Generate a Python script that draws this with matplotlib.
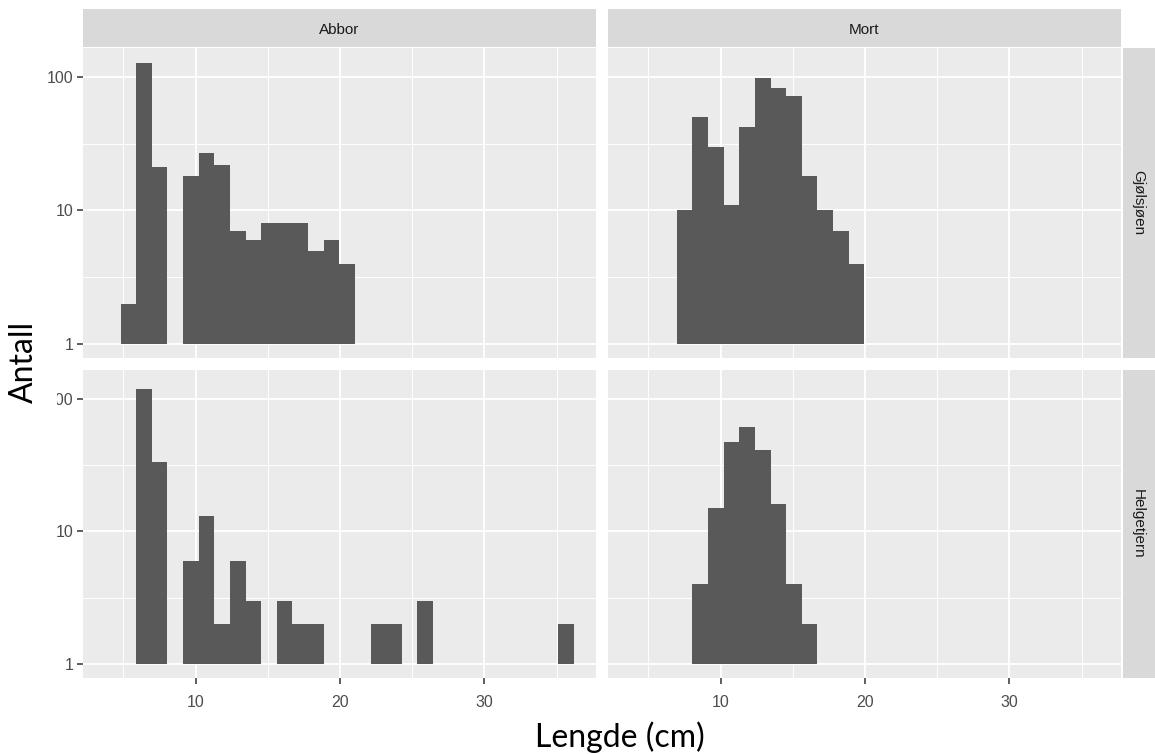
import numpy as np
import matplotlib
matplotlib.use("Agg")
import matplotlib.pyplot as plt
from matplotlib.patches import Rectangle

# shared histogram bins (ggplot default: 30 bins over the full length range)
first_edge = 3.72
bin_width = 1.082
n_bins = 30

species = ["Abbor", "Mort"]
lakes = ["Gjølsjøen", "Helgetjern"]

# counts per bin
abbor_gjolsjoen = [0, 2, 126, 21, 0, 18, 27, 22, 7, 6, 8, 8, 8, 5, 6, 4,
                   0, 0, 0, 0, 0, 0, 0, 0, 0, 0, 0, 0, 0, 0]
abbor_helgetjern = [0, 0, 118, 33, 0, 6, 13, 2, 6, 3, 0, 3, 2, 2, 0, 0,
                    0, 2, 2, 0, 3, 0, 0, 0, 0, 0, 0, 0, 0, 2]
mort_gjolsjoen = [0, 0, 0, 10, 50, 30, 11, 42, 97, 83, 72, 18, 10, 7, 4, 0,
                  0, 0, 0, 0, 0, 0, 0, 0, 0, 0, 0, 0, 0, 0]
mort_helgetjern = [0, 0, 0, 0, 4, 15, 47, 61, 41, 16, 4, 2, 0, 0, 0, 0,
                   0, 0, 0, 0, 0, 0, 0, 0, 0, 0, 0, 0, 0, 0]

counts = {
    ("Abbor", "Gjølsjøen"): abbor_gjolsjoen,
    ("Abbor", "Helgetjern"): abbor_helgetjern,
    ("Mort", "Gjølsjøen"): mort_gjolsjoen,
    ("Mort", "Helgetjern"): mort_helgetjern,
}

x_major = [10, 20, 30]
x_minor = [5, 15, 25, 35]
y_major = [1, 10, 100]
y_minor = [10 ** 0.5, 10 ** 1.5]

W, H = 1155, 754
fig = plt.figure(figsize=(W / 100, H / 100), dpi=100)
fig.patch.set_facecolor("white")

def px_axes(x0, y0, x1, y1):
    return fig.add_axes([x0 / W, 1 - y1 / H, (x1 - x0) / W, (y1 - y0) / H])

col_px = [(83, 596), (608, 1121)]
row_px = [(48, 358), (370, 678)]

centers = first_edge + bin_width * (np.arange(n_bins) + 0.5)
sans = ["Liberation Sans", "DejaVu Sans"]
tick_font = dict(family=sans, size=11.5, color="#4D4D4D")

for r, lake in enumerate(lakes):
    for c, sp in enumerate(species):
        x0, x1 = col_px[c]
        y0, y1 = row_px[r]
        ax = px_axes(x0, y0, x1, y1)
        ax.set_facecolor("#EBEBEB")
        ax.set_yscale("log")
        ax.set_xlim(2.2, 37.73)
        ax.set_ylim(10 ** -0.105, 10 ** 2.215)

        for v in x_minor:
            ax.axvline(v, color="white", lw=0.7, zorder=0)
        for v in y_minor:
            ax.axhline(v, color="white", lw=0.7, zorder=0)
        for v in x_major:
            ax.axvline(v, color="white", lw=1.3, zorder=0)
        for v in y_major:
            ax.axhline(v, color="white", lw=1.3, zorder=0)

        cnt = np.array(counts[(sp, lake)], dtype=float)
        keep = cnt > 0
        ax.bar(centers[keep], cnt[keep] - 1, bottom=1, width=bin_width,
               color="#595959", edgecolor="none", zorder=2)

        for s in ax.spines.values():
            s.set_visible(False)
        ax.minorticks_off()
        ax.set_xticks(x_major)
        ax.set_yticks(y_major)
        ax.tick_params(colors="#333333", length=4, width=1.1, pad=3)
        ax.tick_params(axis="x", pad=8)
        if c == 0:
            ax.set_yticklabels(["1", "10", "100"], **tick_font)
        else:
            ax.tick_params(axis="y", length=0, labelleft=False)
        if r == 1:
            ax.set_xticklabels([str(v) for v in x_major], **tick_font)
        else:
            ax.tick_params(axis="x", length=0, labelbottom=False)

        # strips
        if r == 0:
            sax = px_axes(x0, 9, x1, 47)
            sax.set_facecolor("#D9D9D9")
            sax.set_xticks([]); sax.set_yticks([])
            for s in sax.spines.values():
                s.set_visible(False)
            sax.text(0.5, 0.45, sp, ha="center", va="center", fontsize=11,
                     color="#1A1A1A", family=sans)
        if c == 1:
            sax = px_axes(1123, y0, 1165, y1)
            sax.set_facecolor("#D9D9D9")
            sax.set_xticks([]); sax.set_yticks([])
            for s in sax.spines.values():
                s.set_visible(False)
            sax.text(15 / 42, 0.5, lake, ha="center", va="center", rotation=-90,
                     fontsize=11, color="#1A1A1A", family=sans)

# axis titles pasted on white boxes
fig.patches.append(Rectangle((0, 1 - 425 / H), 57 / W, 125 / H,
                             transform=fig.transFigure, facecolor="white",
                             edgecolor="none", zorder=5))
fig.text(24 / W, 1 - 362 / H, "Antall", rotation=90, ha="center", va="center",
         fontsize=23, color="black", family=["Lato", "DejaVu Sans"], zorder=6)
fig.text(620 / W, 1 - 737 / H, "Lengde (cm)", ha="center", va="center",
         fontsize=23, color="black", family=["Lato", "DejaVu Sans"], zorder=6)

fig.savefig("out.png", dpi=100, facecolor="white")
